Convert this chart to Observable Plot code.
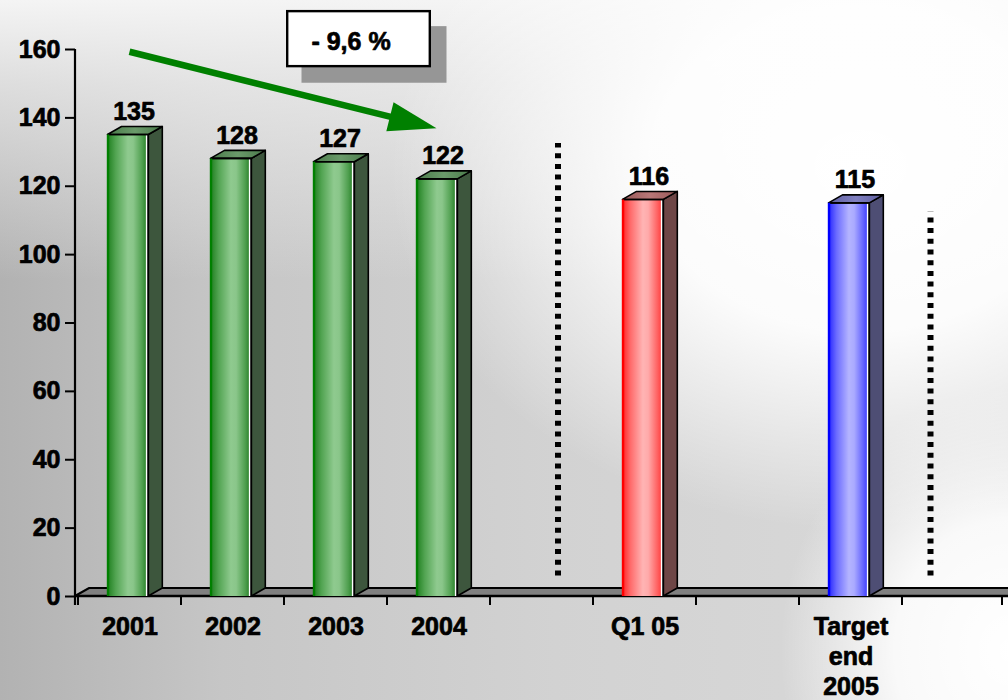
<!DOCTYPE html>
<html>
<head>
<meta charset="utf-8">
<script src="https://cdn.jsdelivr.net/npm/d3@7"></script>
<script src="https://cdn.jsdelivr.net/npm/@observablehq/plot@0.6"></script>
<style>
html, body { margin: 0; padding: 0; }
body {
  width: 1008px; height: 700px; overflow: hidden;
  background:
    radial-gradient(ellipse 470px 360px at 860px 170px, #ffffff 0%, rgba(255,255,255,0.92) 45%, rgba(255,255,255,0) 100%),
    radial-gradient(ellipse 230px 260px at 1010px 650px, #ffffff 0%, rgba(255,255,255,0.85) 50%, rgba(255,255,255,0) 100%),
    linear-gradient(180deg, rgba(244,244,244,1) 0%, rgba(240,240,240,0.7) 12%, rgba(255,255,255,0) 40%),
    linear-gradient(90deg, #b2b2b2 0%, #c6c6c6 22%, #d2d2d2 55%, #dadada 100%);
}
#chart { position: absolute; left: 0; top: 0; }
#chart svg text { stroke: #000; stroke-width: 0.7px; stroke-linejoin: round; }
</style>
</head>
<body>
<div id="chart"></div>
<script>
// ---- data ----
const categories = ["2001", "2002", "2003", "2004", "gap1", "Q1 05", "gap2", "Target end 2005", "gap3"];
const tickLabels = ["2001", "2002", "2003", "2004", "", "Q1 05", "", "Target\nend\n2005", ""];
const barCategories = ["2001", "2002", "2003", "2004", "Q1 05", "Target end 2005"];
const barValues = [135, 128, 127, 122, 116, 115];
const barColors = ["green", "green", "green", "green", "red", "blue"];
const yTicks = [0, 20, 40, 60, 80, 100, 120, 140, 160];
const separatorCategories = ["gap1", "gap3"];
const separatorTops = [132.5, 112.5];
const separatorBottoms = [6, 6];
const arrowFrom = {category: "2001", value: 159.2};
const arrowTo = {category: "2004", value: 136.8};
const annotation = {category: "2003", value: 162.3, label: "- 9,6 %"};

const barData = barCategories.map((c, i) => ({category: c, value: barValues[i], color: barColors[i]}));
const separators = separatorCategories.map((c, i) => ({category: c, top: separatorTops[i], bottom: separatorBottoms[i]}));

// ---- styling ----
const DEPTH_X = 14, DEPTH_Y = 8;
const FRONT_INSET_LEFT = 29.5, FRONT_INSET_RIGHT = 32.7;
const palette = {
  green: {edge: "#008000", side: "#3d563d", top1: "#6a9a6a", top2: "#4a7a4a",
          stops: [[0, "#1c7a1c"], [0.06, "#2e8a2e"], [0.2, "#52a452"], [0.5, "#8fca8f"], [0.63, "#8ac68a"], [0.85, "#4f9f4f"], [0.93, "#348a34"], [0.94, "#ffffff"], [1, "#ffffff"]]},
  red:   {edge: "#ff0000", side: "#6e4646", top1: "#b87878", top2: "#985858",
          stops: [[0, "#ff1010"], [0.06, "#ff3a3a"], [0.2, "#ff6c6c"], [0.5, "#ffb4b4"], [0.63, "#ffaaaa"], [0.85, "#ff6464"], [0.93, "#ff4848"], [0.94, "#ffffff"], [1, "#ffffff"]]},
  blue:  {edge: "#0000ff", side: "#4e4e74", top1: "#8080c0", top2: "#5e5ea0",
          stops: [[0, "#1010ff"], [0.06, "#3a3aff"], [0.2, "#6c6cff"], [0.5, "#b4b4ff"], [0.63, "#aaaaff"], [0.85, "#6464ff"], [0.93, "#4848ff"], [0.94, "#ffffff"], [1, "#ffffff"]]}
};
const FONT = "'Liberation Sans', Arial, Helvetica, sans-serif";

const bandCenter = (x, c) => x(c) + x.bandwidth() / 2;

// defs + floor + axis lines + band-boundary ticks
function floorLayer(index, {x, y}) {
  const g = d3.create("svg:g");
  const defs = g.append("defs");
  for (const [name, p] of Object.entries(palette)) {
    const lg = defs.append("linearGradient").attr("id", "front-" + name).attr("x1", 0).attr("x2", 1).attr("y1", 0).attr("y2", 0);
    for (const [o, c] of p.stops) lg.append("stop").attr("offset", o).attr("stop-color", c);
    const tg = defs.append("linearGradient").attr("id", "top-" + name).attr("x1", 0).attr("x2", 1).attr("y1", 0).attr("y2", 0);
    tg.append("stop").attr("offset", 0).attr("stop-color", p.top2);
    tg.append("stop").attr("offset", 0.5).attr("stop-color", p.top1);
    tg.append("stop").attr("offset", 1).attr("stop-color", p.top2);
  }
  const [xa, xb] = x.range();
  const y0 = y(0);
  const bw = x.bandwidth();
  g.append("polygon")
    .attr("points", [[xa, y0], [xa + DEPTH_X, y0 - DEPTH_Y], [xb, y0 - DEPTH_Y], [xb, y0]].join(" "))
    .attr("fill", "#808080");
  g.append("path").attr("d", `M${xa},${y0}L${xa + DEPTH_X},${y0 - DEPTH_Y}H${xb}`)
    .attr("fill", "none").attr("stroke", "black").attr("stroke-width", 2.2);
  g.append("path").attr("d", `M${xa},${y0}H${xb}`)
    .attr("stroke", "black").attr("stroke-width", 2.6);
  for (let i = 0; i <= categories.length; i++) {
    const xx = i < categories.length ? x(categories[i]) : xa + bw * categories.length;
    g.append("path").attr("d", `M${xx},${y0}V${y0 + 9}`).attr("stroke", "black").attr("stroke-width", 2);
  }
  g.append("path").attr("d", `M${xa},${y(yTicks[yTicks.length - 1])}V${y0 + 9}`)
    .attr("stroke", "black").attr("stroke-width", 2.2);
  return g.node();
}

// side and top faces + front outlines
function facesLayer(index, {x, y}) {
  const g = d3.create("svg:g");
  const bw = x.bandwidth();
  const y0 = y(0);
  for (const d of barData) {
    const p = palette[d.color];
    const x0 = x(d.category) + FRONT_INSET_LEFT;
    const x1 = x(d.category) + bw - FRONT_INSET_RIGHT;
    const yv = y(d.value);
    g.append("polygon")
      .attr("points", [[x1, yv], [x1 + DEPTH_X, yv - DEPTH_Y], [x1 + DEPTH_X, y0 - DEPTH_Y], [x1, y0]].join(" "))
      .attr("fill", p.side).attr("stroke", "black").attr("stroke-width", 1.6).attr("stroke-linejoin", "round");
    g.append("polygon")
      .attr("points", [[x0, yv], [x0 + DEPTH_X, yv - DEPTH_Y], [x1 + DEPTH_X, yv - DEPTH_Y], [x1, yv]].join(" "))
      .attr("fill", `url(#top-${d.color})`).attr("stroke", "black").attr("stroke-width", 1.6).attr("stroke-linejoin", "round");
    g.append("path").attr("d", `M${x0},${yv}H${x1}V${y0}`)
      .attr("fill", "none").attr("stroke", "black").attr("stroke-width", 1.6);
    g.append("path").attr("d", `M${x0 + 0.5},${yv}V${y0}`)
      .attr("fill", "none").attr("stroke", p.edge).attr("stroke-width", 2.4);
  }
  return g.node();
}

// green arrow with filled head
function arrowLayer(index, {x, y}) {
  const g = d3.create("svg:g");
  const sx = bandCenter(x, arrowFrom.category), sy = y(arrowFrom.value);
  const tx = bandCenter(x, arrowTo.category) - 2, ty = y(arrowTo.value);
  const len = Math.hypot(tx - sx, ty - sy);
  const ux = (tx - sx) / len, uy = (ty - sy) / len;
  const headLen = 48, headHalf = 15;
  const bx = tx - ux * headLen, by = ty - uy * headLen;
  g.append("path").attr("d", `M${sx},${sy}L${bx + ux * 4},${by + uy * 4}`)
    .attr("stroke", "#008000").attr("stroke-width", 6.5);
  g.append("polygon")
    .attr("points", [[tx, ty], [bx - uy * headHalf, by + ux * headHalf], [bx + uy * headHalf, by - ux * headHalf]].join(" "))
    .attr("fill", "#008000");
  return g.node();
}

// annotation box with shadow
function boxLayer(index, {x, y}) {
  const g = d3.create("svg:g");
  const cx = bandCenter(x, annotation.category) + 15, cy = y(annotation.value);
  g.append("rect").attr("x", cx - 49).attr("y", cy - 15).attr("width", 145).attr("height", 56.6).attr("fill", "#969696");
  g.append("rect").attr("x", cx - 63.3).attr("y", cy - 30).attr("width", 142.6).attr("height", 55)
    .attr("fill", "white").attr("stroke", "black").attr("stroke-width", 2.4);
  return g.node();
}

const chart = Plot.plot({
  width: 1008,
  height: 700,
  marginLeft: 75,
  marginRight: 0,
  marginTop: 49,
  marginBottom: 104,
  x: {type: "band", domain: categories, padding: 0, axis: null},
  y: {domain: [0, 160], axis: null},
  color: {type: "identity"},
  style: {background: "transparent", fontFamily: FONT, fontWeight: "bold", color: "black", overflow: "visible"},
  marks: [
    floorLayer,
    Plot.ruleX(separators.slice(0, 1), {x: "category", y1: "bottom", y2: "top", dx: 16, stroke: "black", strokeWidth: 6, strokeDasharray: "5,5.7"}),
    Plot.ruleX(separators.slice(1), {x: "category", y1: "bottom", y2: "top", dx: -23.5, stroke: "black", strokeWidth: 6, strokeDasharray: "5,5.7"}),
    Plot.barY(barData, {x: "category", y: "value", fill: d => `url(#front-${d.color})`, insetLeft: FRONT_INSET_LEFT, insetRight: FRONT_INSET_RIGHT}),
    facesLayer,
    Plot.text(barData, {x: "category", y: "value", text: d => String(d.value), dx: 4, dy: -23, fontSize: 25, fontWeight: "bold", fill: "black", textAnchor: "middle", lineAnchor: "middle"}),
    Plot.axisY({ticks: yTicks, tickSize: 10, tickPadding: 5, fontSize: 25, fontWeight: "bold", strokeWidth: 2, label: null, tickFormat: d => String(d)}),
    Plot.axisX({tickSize: 0, tickPadding: 17, fontSize: 25, fontWeight: "bold", lineHeight: 1.2, label: null, tickFormat: d => tickLabels[categories.indexOf(d)]}),
    arrowLayer,
    boxLayer,
    Plot.text([annotation], {x: "category", y: "value", text: "label", dx: 15, fontSize: 25, fontWeight: "bold", fill: "black", textAnchor: "middle", lineAnchor: "middle"})
  ]
});
document.getElementById("chart").appendChild(chart);
</script>
</body>
</html>
